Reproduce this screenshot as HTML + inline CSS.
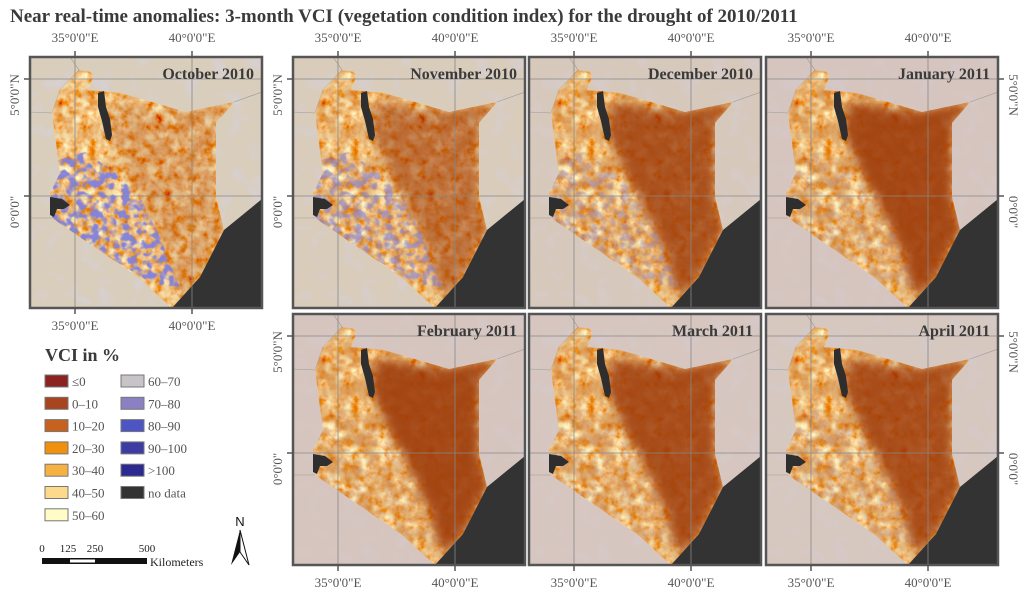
<!DOCTYPE html>
<html><head><meta charset="utf-8"><style>
body{margin:0;background:#fff;}
svg{display:block;font-family:"Liberation Serif",serif;}
</style></head><body>
<svg id="fig" width="1024" height="597" viewBox="0 0 1024 597">
<defs>
<filter id="noiseOrange" x="0" y="0" width="100%" height="100%">
<feTurbulence type="fractalNoise" baseFrequency="0.12" numOctaves="3" seed="3"/>
<feColorMatrix type="matrix" values="0.3 0 0 0 0.8  1.6 0 0 0 -0.2  1.4 0 0 0 -0.45  0 0 0 0 1"/>
</filter>
<filter id="noiseBrown" x="0" y="0" width="100%" height="100%">
<feTurbulence type="fractalNoise" baseFrequency="0.06" numOctaves="2" seed="7"/>
<feColorMatrix type="matrix" values="0 0 0 0 0.63  0 0 0 0 0.25  0 0 0 0 0.06  -3 0 0 0 2.1"/>
</filter>
<filter id="noiseBlue" x="0" y="0" width="100%" height="100%">
<feTurbulence type="fractalNoise" baseFrequency="0.13" numOctaves="2" seed="11"/>
<feColorMatrix type="matrix" values="0 0 0 0 0.22  0 0 0 0 0.22  0 0 0 0 0.72  -5 0 0 0 2.8"/>
</filter>
<filter id="noiseBg" x="0" y="0" width="100%" height="100%">
<feTurbulence type="fractalNoise" baseFrequency="0.06" numOctaves="2" seed="5"/>
<feColorMatrix type="matrix" values="0 0 0 0 0.65  0 0 0 0 0.66  0 0 0 0 0.85  -3 0 0 0 1.5"/>
</filter>
<filter id="soft" x="-20%" y="-20%" width="140%" height="140%"><feGaussianBlur stdDeviation="5"/></filter>
</defs>
<text x="10" y="22" font-size="19" font-weight="bold" fill="#3a3a3a">Near real-time anomalies: 3-month VCI (vegetation condition index) for the drought of 2010/2011</text>
<g id="panels"></g>
<g id="legend"></g>
</svg>
<script>
const months = ["October 2010","November 2010","December 2010","January 2011","February 2011","March 2011","April 2011"];
const droughtLevel = [0.25, 0.6, 0.85, 0.95, 0.95, 0.9, 0.88];
const wetLevel = [0.95, 0.6, 0.35, 0.15, 0.08, 0.1, 0.15];
const bgTint = ["#d9cdbb","#d9ccbb","#d7c8bc","#d6c5be","#d6c5be","#d6c6bf","#d6c7bf"];
const lonTicks = ["35°0'0\"E","40°0'0\"E"];
const latTicks = ["5°0'0\"N","0°0'0\""];
const legendLabels = ["≤0","0–10","10–20","20–30","30–40","40–50","50–60","60–70","70–80","80–90","90–100",">100","no data"];
const legendColors = ["#8b2323","#a8451f","#c7621e","#f0900f","#f6b142","#fdd98c","#fffcc8","#c8c3c6","#8a80c2","#4d55c2","#3d3ca3","#2c2990","#333333"];

const NS="http://www.w3.org/2000/svg";
function mk(tag,attrs,parent){const e=document.createElementNS(NS,tag);for(const k in attrs)e.setAttribute(k,attrs[k]);if(parent)parent.appendChild(e);return e;}
const W=232,H=251;
const layout=[[30,57],[293,57],[529,57],[766,57],[293,314],[529,314],[766,314]];
const kenya="30,33 49,13 61,15 63,21 58,33 91,36 156,55 204,45 186,66 186,140 194,173 170,220 142,251 108,220 22,161 20,136 30,116 22,56";
const ocean="142,251 170,220 194,173 232,142 232,251";
const lake="68,36 74,34 76,50 80,62 82,78 80,84 76,82 72,64 68,50";
const victoria="20,140 32,142 40,148 34,152 27,152 24,160 20,158";
const brownZone="82,45 156,55 204,45 186,66 186,140 194,173 170,220 150,240 135,195 115,150 92,110 78,75";
const wetZone="22,105 55,95 85,115 110,140 130,180 150,230 125,228 70,195 20,160";
const lonX=[45,162], latY=[22,139];
const G=document.getElementById('panels');
months.forEach((m,i)=>{
  const [px,py]=layout[i];
  const g=mk('g',{transform:`translate(${px},${py})`},G);
  
  
  const cid='clipP'+i, kid='clipK'+i, wid='clipW'+i;
  const cp=mk('clipPath',{id:cid},g); mk('rect',{x:0,y:0,width:W,height:H},cp);
  const kp=mk('clipPath',{id:kid},g); mk('polygon',{points:kenya},kp);
  const wp=mk('clipPath',{id:wid},g); mk('polygon',{points:wetZone},wp);
  const inner=mk('g',{'clip-path':`url(#${cid})`},g);
  mk('rect',{x:0,y:0,width:W,height:H,fill:bgTint[i]},inner);
  mk('rect',{x:0,y:0,width:W,height:H,filter:'url(#noiseBg)',opacity:0.15+wetLevel[i]*0.3},inner);
  mk('polyline',{points:"0,55 22,56 30,33 49,13 40,0",fill:'none',stroke:'#999','stroke-width':0.6},inner);
  mk('polyline',{points:"204,45 232,35",fill:'none',stroke:'#999','stroke-width':0.6},inner);
  mk('polyline',{points:"0,161 22,161",fill:'none',stroke:'#999','stroke-width':0.6},inner);
  const k=mk('g',{'clip-path':`url(#${kid})`},inner);
  mk('rect',{x:0,y:0,width:W,height:H,filter:'url(#noiseOrange)'},k);
  mk('rect',{x:0,y:0,width:W,height:H,filter:'url(#noiseBrown)',opacity:0.25+droughtLevel[i]*0.45},k);
  const bz=mk('polygon',{points:brownZone,fill:'#9e3c0e',opacity:droughtLevel[i]*0.95,filter:'url(#soft)'},k);
  
  
  const wz=mk('g',{opacity:wetLevel[i],'clip-path':`url(#${wid})`},k);
  
  
  mk('rect',{x:0,y:0,width:W,height:H,filter:'url(#noiseBlue)'},wz);
  mk('polygon',{points:lake,fill:'#2e2e2e'},inner);
  mk('polygon',{points:victoria,fill:'#2e2e2e'},inner);
  mk('polygon',{points:ocean,fill:'#333'},inner);
  lonX.forEach(x=>mk('line',{x1:x,y1:0,x2:x,y2:H,stroke:'#888','stroke-width':0.8},inner));
  latY.forEach(y=>mk('line',{x1:0,y1:y,x2:W,y2:y,stroke:'#888','stroke-width':0.8},inner));
  mk('rect',{x:0,y:0,width:W,height:H,fill:'none',stroke:'#555','stroke-width':2.5},g);
  const t=mk('text',{x:W-8,y:22,'text-anchor':'end','font-size':16,'font-weight':'bold',fill:'#3a3a3a'},g);
  t.textContent=m;
  
  
  const row=py<100?0:1;
  const botLab = row===1 || i===0;
  lonX.forEach((x,j)=>{
    if(row===0){mk('line',{x1:x,y1:-6,x2:x,y2:0,stroke:'#555','stroke-width':1.5},g);
      const l=mk('text',{x:x,y:-15,'text-anchor':'middle','font-size':13,fill:'#555'},g);l.textContent=lonTicks[j];
      }
    if(botLab){mk('line',{x1:x,y1:H,x2:x,y2:H+6,stroke:'#555','stroke-width':1.5},g);
      const l=mk('text',{x:x,y:H+22,'text-anchor':'middle','font-size':13,fill:'#555'},g);l.textContent=lonTicks[j];
      }
  });
  const leftLab = (i===0||i===1||i===4);
  const rightLab = (i===3||i===6);
  latY.forEach((y,j)=>{
    if(leftLab){mk('line',{x1:-6,y1:y,x2:0,y2:y,stroke:'#555','stroke-width':1.5},g);
      const l=mk('text',{x:0,y:0,'text-anchor':'middle','font-size':13,fill:'#555',transform:`translate(-11,${y+16}) rotate(-90)`},g);l.textContent=latTicks[j];
      }
    if(rightLab){mk('line',{x1:W,y1:y,x2:W+6,y2:y,stroke:'#555','stroke-width':1.5},g);
      const l=mk('text',{x:0,y:0,'text-anchor':'middle','font-size':13,fill:'#555',transform:`translate(${W+11},${y+16}) rotate(90)`},g);l.textContent=latTicks[j];
      }
  });
});
const L=document.getElementById('legend');
const lt=mk('text',{x:45,y:361,'font-size':18,'font-weight':'bold',fill:'#3a3a3a'},L);lt.textContent="VCI in %";

legendLabels.forEach((lab,i)=>{
  const col=i<7?0:1, r=i<7?i:i-7;
  const x=col?121:45, y=375+r*22.3;
  const e=mk('g',{},L);
  
  
  mk('rect',{x:x,y:y,width:23,height:12,fill:legendColors[i],stroke:'#777','stroke-width':1},e);
  const t=mk('text',{x:x+27,y:y+11,'font-size':13,fill:'#555'},e);t.textContent=lab;
});
const sb=mk('g',{},L);


[["0",42],["125",68],["250",95],["500",147]].forEach(([t,x])=>{const e=mk('text',{x:x,y:552,'text-anchor':'middle','font-size':11,fill:'#222'},sb);e.textContent=t;});
mk('rect',{x:42,y:558,width:105,height:6,fill:'#111'},sb);
mk('rect',{x:70,y:559.5,width:25,height:3,fill:'#fff'},sb);
const km=mk('text',{x:150,y:566,'font-size':12,fill:'#222'},sb);km.textContent="Kilometers";
const na=mk('g',{},L);


const nt=mk('text',{x:240,y:526,'text-anchor':'middle','font-size':13,'font-family':'Liberation Sans, sans-serif',fill:'#111'},na);nt.textContent="N";
mk('polygon',{points:"240,530 231,565 240,552",fill:'#111'},na);
mk('polygon',{points:"240,530 249,565 240,552",fill:'#fff',stroke:'#111','stroke-width':1},na);
</script>
</body></html>
